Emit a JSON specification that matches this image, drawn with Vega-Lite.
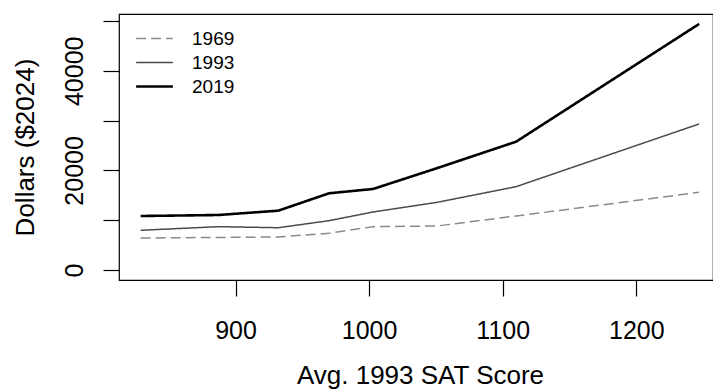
{
  "$schema": "https://vega.github.io/schema/vega-lite/v6.json",
  "autosize": {"type": "none"},
  "padding": {"left": 119, "top": 14, "right": 0, "bottom": 110},
  "width": 594,
  "height": 266,
  "background": "white",
  "config": {
    "font": "Liberation Sans",
    "view": {"stroke": "black", "strokeWidth": 1.2},
    "axis": {
      "grid": false,
      "domain": false,
      "tickColor": "black",
      "tickWidth": 1.2,
      "tickSize": 16,
      "labelColor": "black",
      "labelFontSize": 25,
      "labelFlush": false,
      "labelOverlap": false,
      "titleColor": "black",
      "titleFontSize": 26,
      "titleFontWeight": "normal"
    }
  },
  "data": {
    "values": [
      {"sat": 829, "year": "1969", "dollars": 6430},
      {"sat": 887, "year": "1969", "dollars": 6530},
      {"sat": 932, "year": "1969", "dollars": 6630},
      {"sat": 970, "year": "1969", "dollars": 7370},
      {"sat": 1003, "year": "1969", "dollars": 8700},
      {"sat": 1051, "year": "1969", "dollars": 8840},
      {"sat": 1110, "year": "1969", "dollars": 10840},
      {"sat": 1247, "year": "1969", "dollars": 15600},
      {"sat": 829, "year": "1993", "dollars": 7970},
      {"sat": 887, "year": "1993", "dollars": 8700},
      {"sat": 932, "year": "1993", "dollars": 8490},
      {"sat": 970, "year": "1993", "dollars": 9900},
      {"sat": 1003, "year": "1993", "dollars": 11650},
      {"sat": 1051, "year": "1993", "dollars": 13590},
      {"sat": 1110, "year": "1993", "dollars": 16730},
      {"sat": 1247, "year": "1993", "dollars": 29320},
      {"sat": 829, "year": "2019", "dollars": 10840},
      {"sat": 887, "year": "2019", "dollars": 11040},
      {"sat": 932, "year": "2019", "dollars": 11910},
      {"sat": 970, "year": "2019", "dollars": 15400},
      {"sat": 1003, "year": "2019", "dollars": 16270},
      {"sat": 1051, "year": "2019", "dollars": 20460},
      {"sat": 1110, "year": "2019", "dollars": 25760},
      {"sat": 1247, "year": "2019", "dollars": 49400}
    ]
  },
  "mark": {"type": "line", "clip": true},
  "encoding": {
    "x": {
      "field": "sat",
      "type": "quantitative",
      "scale": {"domain": [812.8, 1257.4], "nice": false, "zero": false},
      "axis": {
        "values": [900, 1000, 1100, 1200],
        "format": "d",
        "labelBaseline": "alphabetic",
        "labelPadding": 42,
        "title": "Avg. 1993 SAT Score",
        "titleBaseline": "alphabetic",
        "titleAlign": "center",
        "titleAnchor": "middle",
        "titleX": 301,
        "titleY": 103
      }
    },
    "y": {
      "field": "dollars",
      "type": "quantitative",
      "scale": {"domain": [-2008, 51400], "nice": false, "zero": false},
      "axis": {
        "values": [0, 10000, 20000, 30000, 40000, 50000],
        "format": "d",
        "labelExpr": "datum.value % 20000 === 0 ? datum.label : ''",
        "labelAngle": -90,
        "labelAlign": "center",
        "labelBaseline": "alphabetic",
        "labelPadding": 21,
        "title": "Dollars ($2024)",
        "titleAngle": -90,
        "titleAlign": "center",
        "titleBaseline": "alphabetic",
        "titleAnchor": "middle",
        "titleX": -86,
        "titleY": 133
      }
    },
    "color": {
      "field": "year",
      "type": "nominal",
      "scale": {"domain": ["1969", "1993", "2019"], "range": ["#8a8a8a", "#4a4a4a", "#000000"]},
      "legend": {
        "orient": "none",
        "legendX": 26,
        "legendY": 15,
        "title": null,
        "padding": 0,
        "symbolType": "M-3,0H3",
        "symbolSize": 150,
        "labelFontSize": 19,
        "labelColor": "black",
        "labelOffset": 28,
        "rowPadding": 4
      }
    },
    "strokeDash": {
      "field": "year",
      "type": "nominal",
      "scale": {"domain": ["1969", "1993", "2019"], "range": [[10, 5], [1, 0], [1, 0]]}
    },
    "strokeWidth": {
      "field": "year",
      "type": "nominal",
      "scale": {"type": "ordinal", "domain": ["1969", "1993", "2019"], "range": [1.5, 1.5, 2.6]}
    }
  }
}
